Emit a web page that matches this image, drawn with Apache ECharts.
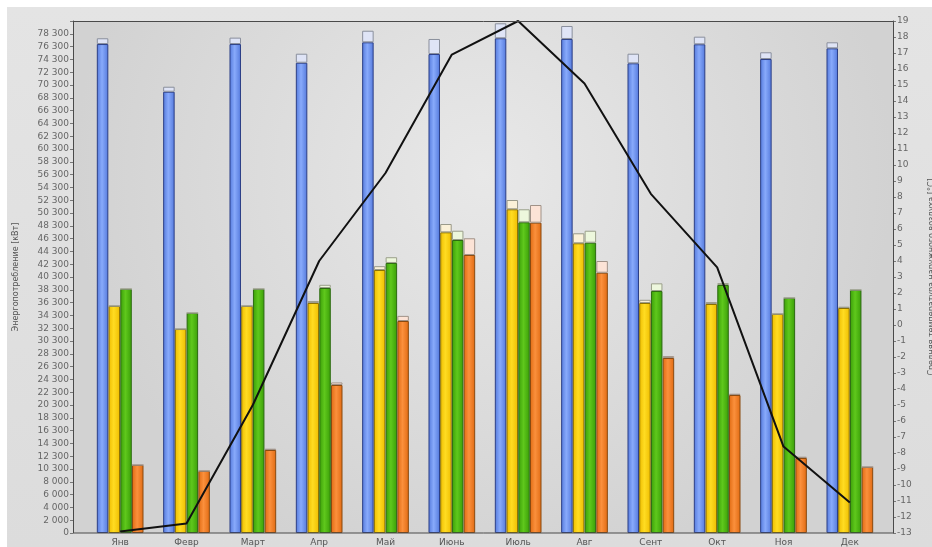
<!DOCTYPE html>
<html><head><meta charset="utf-8">
<script src="https://cdn.jsdelivr.net/npm/echarts@6/dist/echarts.min.js"></script>
<style>html,body{margin:0;padding:0;background:#fff}#c{width:932px;height:547px}</style>
</head><body><div id="c"></div>
<script>
const months = ['Янв','Февр','Март','Апр','Май','Июнь','Июль','Авг','Сент','Окт','Ноя','Дек'];
const leftTicks = ['0','2 000','4 000','6 000','8 000','10 300','12 300','14 300','16 300','18 300','20 300','22 300','24 300','26 300','28 300','30 300','32 300','34 300','36 300','38 300','40 300','42 300','44 300','46 300','48 300','50 300','52 300','54 300','56 300','58 300','60 300','62 300','64 300','66 300','68 300','70 300','72 300','74 300','76 300','78 300'];
const blueBase   = [76400, 68950, 76400, 73480, 76670, 74840, 77300, 77190, 73390, 76360, 74060, 75730];
const blueCap    = [  900,   780,  1000,  1410,  1810,  2350,  2340,  2030,  1500,  1190,  1050,   940];
const yellowBase = [35470, 31870, 35470, 35940, 41090, 46980, 50580, 45270, 35940, 35780, 34220, 35160];
const yellowCap  = [    0,     0,     0,   300,   600,  1300,  1450,  1560,   500,   300,     0,   200];
const greenBase  = [38125, 34375, 38125, 38280, 42190, 45780, 48550, 45360, 37810, 38750, 36720, 37970];
const greenCap   = [    0,     0,     0,   500,   900,  1450,  2030,  1870,  1200,   300,     0,     0];
const orangeBase = [10625,  9690, 12970, 23125, 33125, 43440, 48490, 40670, 27340, 21560, 11720, 10310];
const orangeCap  = [    0,     0,   200,   400,   800,  2610,  2760,  1830,   300,   200,   200,     0];
const temperature = [-12.9, -12.4, -5.0, 4.0, 9.5, 16.9, 19.0, 15.1, 8.2, 3.6, -7.6, -11.1];

function grad(edge, mid){
  return {type:'linear',x:0,y:0,x2:1,y2:0,colorStops:[{offset:0,color:edge},{offset:0.45,color:mid},{offset:1,color:edge}]};
}
function baseSeries(name, stack, data, edge, mid, border){
  return {name, type:'bar', stack, data, barWidth:11.5, barGap:'2%',
    itemStyle:{color:grad(edge,mid), borderColor:border, borderWidth:1}};
}
function capSeries(name, stack, data, color, border){
  return {name, type:'bar', stack, data, barWidth:11.5, barGap:'2%',
    itemStyle:{color:color, borderColor:border, borderWidth:1}};
}
const chart = echarts.init(document.getElementById('c'), null, {renderer:'canvas'});
const font = 'DejaVu Sans';
chart.setOption({
  animation:false,
  backgroundColor:'#ffffff',
  graphic:[
    {type:'rect', z:-20, shape:{x:7,y:7,width:925,height:540},
      style:{fill:{type:'linear',x:0,y:0,x2:0,y2:1,colorStops:[{offset:0,color:'#e4e4e4'},{offset:1,color:'#dcdcdc'}]}}},
    {type:'rect', z:-19, shape:{x:73,y:21,width:820,height:512},
      style:{fill:{type:'radial',x:0.5,y:0.3,r:0.8,colorStops:[{offset:0,color:'#e8e8e8'},{offset:1,color:'#d2d2d2'}]}}},
    {type:'rect', z:100, shape:{x:73.5,y:21.5,width:820,height:511.5},
      style:{fill:'none', stroke:'#4a4a4a', lineWidth:1}}
  ],
  grid:{left:87, right:49, top:21, bottom:14, containLabel:false, outerBoundsMode:'none'},
  xAxis:{type:'category', data:months, boundaryGap:true,
    axisLine:{show:false}, axisTick:{show:false},
    axisLabel:{fontFamily:font, fontSize:9, color:'#555', margin:5}},
  yAxis:[
    {type:'value', min:0, max:80000, interval:2000, offset:14, position:'left',
      name:'Энергопотребление [кВт]', nameLocation:'middle', nameGap:53,
      nameTextStyle:{fontFamily:font, fontSize:8, color:'#555'},
      axisLine:{show:true, lineStyle:{color:'#4a4a4a'}},
      axisTick:{show:true, length:3, lineStyle:{color:'#777'}},
      splitLine:{show:false},
      axisLabel:{fontFamily:font, fontSize:9, color:'#666', margin:4,
        formatter:(v)=>{const i=Math.round(v/2000); return i<leftTicks.length?leftTicks[i]:'';}}},
    {type:'value', min:-13, max:19, interval:1, offset:10, position:'right',
      name:'Средняя температура наружного воздуха [°C]', nameLocation:'middle', nameGap:35,
      nameTextStyle:{fontFamily:font, fontSize:8, color:'#555'},
      axisLine:{show:true, lineStyle:{color:'#4a4a4a'}},
      axisTick:{show:true, length:3, lineStyle:{color:'#777'}},
      splitLine:{show:false},
      axisLabel:{fontFamily:font, fontSize:9, color:'#666', margin:4}}
  ],
  series:[
    baseSeries('Синий','b',blueBase,'#5479dc','#88aafb','#2c3f86'),
    capSeries('Синий+','b',blueCap,'#dfe4f6','#8a8f9c'),
    baseSeries('Жёлтый','y',yellowBase,'#eebd00','#ffdc22','#8a7000'),
    capSeries('Жёлтый+','y',yellowCap,'#fbf1d8','#9a9a8a'),
    baseSeries('Зелёный','g',greenBase,'#3a9e08','#5fc81c','#2c6a10'),
    capSeries('Зелёный+','g',greenCap,'#edf7dc','#9a9f8a'),
    baseSeries('Оранжевый','o',orangeBase,'#e06a12','#fb903c','#8a4a10'),
    capSeries('Оранжевый+','o',orangeCap,'#fce3d6','#a09288'),
    {name:'Температура', type:'line', yAxisIndex:1, data:temperature, symbol:'none', z:10,
      lineStyle:{color:'#111', width:2}}
  ]
});
</script></body></html>
